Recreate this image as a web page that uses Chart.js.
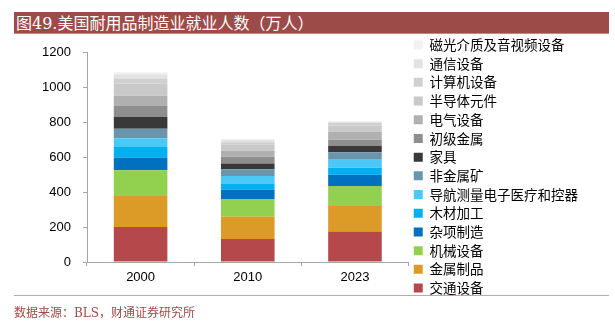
<!DOCTYPE html>
<html>
<head>
<meta charset="utf-8">
<script src="https://cdn.jsdelivr.net/npm/chart.js@4/dist/chart.umd.min.js"></script>
<style>
  body { margin: 0; background: #fff; }
  #caja { position: relative; width: 615px; height: 325px; }
  #titulo {
    position: absolute; left: 14px; top: 12px; width: 595px; height: 22px;
    background: #9d4b48; color: #fff; border-bottom: 1px solid #c08a88;
    font: 16px "DejaVu Serif", "Noto Sans CJK SC", serif; line-height: 23px;
    padding-left: 2px; box-sizing: border-box; white-space: nowrap;
  }
  #linea { position: absolute; left: 14px; top: 295px; width: 595px; height: 1px; background: #cba4a2; }
  #fuente {
    position: absolute; left: 14px; top: 303px; color: #9d4b48;
    font: 12px "DejaVu Serif", "Noto Sans CJK SC", serif; white-space: nowrap;
  }
  canvas { position: absolute; left: 0; top: 0; }
</style>
</head>
<body>
<div id="caja">
  <canvas id="empleo"></canvas>
  <div id="titulo">图49.美国耐用品制造业就业人数（万人）</div>
  <div id="linea"></div>
  <div id="fuente">数据来源：BLS，财通证券研究所</div>
</div>
<script>
const anios = ['2000', '2010', '2023'];

const jiaotong = [200, 132, 175];
const jinshuZhipin = [177, 128, 145];
const jixie = [147, 100, 115];
const zaxiang = [72, 53, 63];
const mucai = [61, 36, 40];
const daohang = [50, 43, 47];
const feijinshu = [54, 38, 42];
const jiaju = [68, 33, 36];
const chuji = [62, 38, 35];
const dianqi = [59, 35, 46];
const bandaoti = [70, 34, 36];
const jisuanji = [28, 14, 14];
const tongxin = [25, 13, 8];
const ciguang = [12, 6, 3];

const yTicks = [0, 200, 400, 600, 800, 1000, 1200];

function serie(label, data, color) {
    return {
        label: label,
        data: data,
        backgroundColor: color,
        borderWidth: 0,
        barPercentage: 0.5,
        categoryPercentage: 1.0
    };
}

function graficar() {
    const ctx = document.getElementById('empleo').getContext('2d');
    Chart.defaults.font.family = '"Liberation Sans", Arial, sans-serif';
    Chart.defaults.color = '#000';

    return new Chart(ctx, {
        type: 'bar',
        data: {
            labels: anios,
            datasets: [
                serie('交通设备', jiaotong, '#b5484a'),
                serie('金属制品', jinshuZhipin, '#dc9b26'),
                serie('机械设备', jixie, '#92d050'),
                serie('杂项制造', zaxiang, '#0070c0'),
                serie('木材加工', mucai, '#00b0f0'),
                serie('导航测量电子医疗和控器', daohang, '#4bc8f5'),
                serie('非金属矿', feijinshu, '#6a96ad'),
                serie('家具', jiaju, '#3a3838'),
                serie('初级金属', chuji, '#8e8e8e'),
                serie('电气设备', dianqi, '#b0b0b0'),
                serie('半导体元件', bandaoti, '#c9c9c9'),
                serie('计算机设备', jisuanji, '#d0d0d0'),
                serie('通信设备', tongxin, '#e3e3e3'),
                serie('磁光介质及音视频设备', ciguang, '#f2f2f2')
            ]
        },
        options: {
            responsive: true,
            maintainAspectRatio: false,
            animation: false,
            layout: { padding: { top: 33, bottom: 20, left: 10, right: 27 } },
            plugins: {
                tooltip: { enabled: false },
                // espacio vacio para bajar el area del grafico
                title: {
                    display: true,
                    text: ' ',
                    fullSize: false,
                    font: { size: 10 },
                    padding: { top: 7, bottom: 0 }
                },
                legend: {
                    position: 'right',
                    align: 'start',
                    reverse: true,
                    maxWidth: 220,
                    labels: {
                        boxWidth: 9,
                        boxHeight: 9,
                        padding: 5.2,
                        color: '#000',
                        font: { size: 13.5, family: '"Noto Sans CJK SC", sans-serif' }
                    }
                }
            },
            scales: {
                x: {
                    stacked: true,
                    afterFit: (scale) => { scale.height = 43; },
                    grid: { display: true, drawOnChartArea: false, tickLength: 4, color: '#a6a6a6' },
                    border: { color: '#a6a6a6' },
                    ticks: { padding: 4, font: { size: 13 }, color: '#000' }
                },
                y: {
                    stacked: true,
                    min: 0,
                    max: 1200,
                    afterFit: (scale) => { scale.width = 77; },
                    afterBuildTicks: (scale) => { scale.ticks = yTicks.map(v => ({ value: v })); },
                    grid: { display: true, drawOnChartArea: false, tickLength: 4, color: '#a6a6a6' },
                    border: { color: '#a6a6a6' },
                    ticks: { padding: 12, font: { size: 13 }, color: '#000', callback: (v) => String(v) }
                }
            }
        }
    });
}

document.fonts.load('13.5px "Noto Sans CJK SC"', '导航测量电子医疗和控器')
    .then(() => graficar())
    .catch(error => { console.log('error ' + error); graficar(); });
</script>
</body>
</html>
